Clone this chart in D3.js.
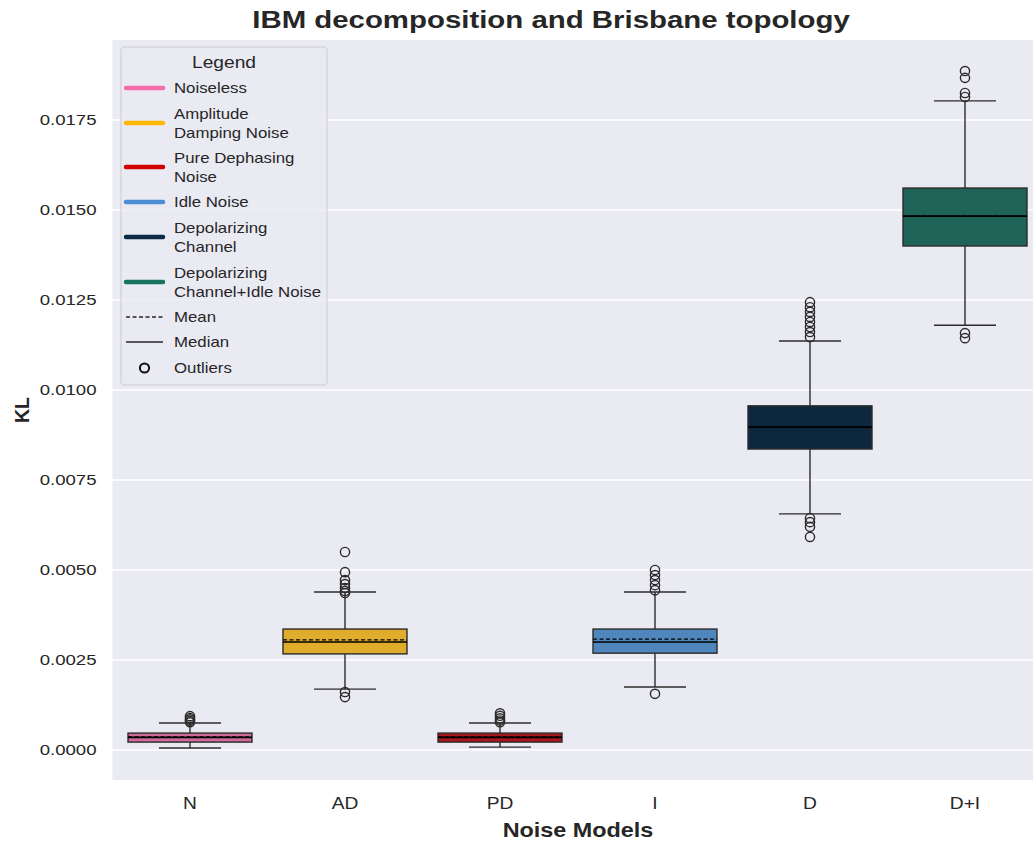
<!DOCTYPE html>
<html>
<head>
<meta charset="utf-8">
<script src="https://cdn.jsdelivr.net/npm/d3@7"></script>
<style>
  html, body { margin: 0; padding: 0; background: #ffffff; }
  svg { display: block; font-family: "Liberation Sans", Arial, sans-serif; }
</style>
</head>
<body>
<svg id="chart" width="1033" height="841"></svg>
<script>
// Noise model categories (x axis)
const categories = ["N", "AD", "PD", "I", "D", "D+I"];
const legendNames = ["Noiseless", "Amplitude\nDamping Noise", "Pure Dephasing\nNoise", "Idle Noise", "Depolarizing\nChannel", "Depolarizing\nChannel+Idle Noise"];

// Box statistics of the KL divergence per noise model
const whiskerLow  = [0.000055, 0.00169, 0.00008, 0.00175, 0.00656, 0.0118];
const q1Values    = [0.00022, 0.00267, 0.00022, 0.00269, 0.00836, 0.0140];
const medians     = [0.00035, 0.00300, 0.00035, 0.00300, 0.00897, 0.01483];
const means       = [0.00036, 0.00306, 0.00036, 0.00308, 0.00897, 0.01483];
const q3Values    = [0.00047, 0.00336, 0.00047, 0.00336, 0.00956, 0.01561];
const whiskerHigh = [0.00075, 0.00439, 0.00075, 0.00439, 0.01136, 0.01803];
const outliers = [
  [0.00077, 0.00081, 0.00085, 0.00089, 0.00094],
  [0.0055, 0.00494, 0.00472, 0.00461, 0.0045, 0.00442, 0.00436, 0.00161, 0.00147],
  [0.00077, 0.00082, 0.00088, 0.00095, 0.00102],
  [0.0050, 0.00486, 0.00472, 0.00458, 0.00444, 0.00156],
  [0.01244, 0.0123, 0.01217, 0.01203, 0.01189, 0.01175, 0.01161, 0.01147, 0.00644, 0.00633, 0.0062, 0.00592],
  [0.01886, 0.01867, 0.01825, 0.01814, 0.01158, 0.01144]
];

// Y axis ticks
const yTicks = [0, 0.0025, 0.005, 0.0075, 0.01, 0.0125, 0.015, 0.0175];

// Colours: legend handles and box fills
const legendColors = ["#f36ea8", "#ffb703", "#d00000", "#4a8fd6", "#0b2b47", "#17755f"];
const boxFills     = ["#cf6a9b", "#e0ac2b", "#a8151b", "#4f87bd", "#0d283e", "#1f6358"];

// Text is drawn slightly wide
const SX = 1.2;
const ink = "#262626";

const svg = d3.select("#chart");
const plot = { left: 112.5, right: 1042.5, top: 40, bottom: 780 };

const x = d3.scaleBand().domain(categories).range([plot.left, plot.right]).paddingInner(0).paddingOuter(0);
const y = d3.scaleLinear().domain([-0.000833, 0.019722]).range([plot.bottom, plot.top]);

function wideText(parent, px, py, str, size, opts = {}) {
  return parent.append("text")
    .attr("transform", `translate(${px},${py}) scale(${SX},1)` + (opts.rotate ? ` rotate(${opts.rotate})` : ""))
    .attr("text-anchor", opts.anchor || "start")
    .attr("font-size", size)
    .attr("font-weight", opts.bold ? "bold" : "normal")
    .attr("fill", ink)
    .text(str);
}

// Plot background
svg.append("rect")
  .attr("x", plot.left).attr("y", plot.top)
  .attr("width", plot.right - plot.left).attr("height", plot.bottom - plot.top)
  .attr("fill", "#eaeaf2");

// Horizontal grid lines
svg.append("g").selectAll("line").data(yTicks).join("line")
  .attr("x1", plot.left).attr("x2", plot.right)
  .attr("y1", d => y(d)).attr("y2", d => y(d))
  .attr("stroke", "#ffffff").attr("stroke-width", 1.3);

// Y axis (labels only)
const yAxis = d3.axisLeft(y).tickValues(yTicks).tickFormat(d3.format(".4f")).tickSize(0).tickPadding(16 / SX);
const gy = svg.append("g").attr("transform", `translate(${plot.left},0)`).call(yAxis);
gy.select(".domain").remove();
gy.selectAll("text").attr("font-size", 15.5).attr("fill", ink)
  .attr("font-family", "Liberation Sans, Arial, sans-serif")
  .attr("transform", `scale(${SX},1)`);

// X axis (labels only)
const xAxis = d3.axisBottom(x).tickSize(0).tickPadding(18);
const gx = svg.append("g").attr("transform", `translate(0,${plot.bottom})`).call(xAxis);
gx.select(".domain").remove();
gx.selectAll("text").attr("font-size", 16).attr("fill", ink)
  .attr("font-family", "Liberation Sans, Arial, sans-serif")
  .attr("transform", `scale(${SX},1)`);

// Boxes
const boxW = x.bandwidth() * 0.8;
const capW = boxW / 2;
const edge = "#2b2b2b";
const stats = categories.map((c, i) => ({
  c, i, lo: whiskerLow[i], q1: q1Values[i], med: medians[i], mean: means[i],
  q3: q3Values[i], hi: whiskerHigh[i], out: outliers[i]
}));

const boxes = svg.append("g").selectAll("g").data(stats).join("g")
  .attr("transform", d => `translate(${x(d.c) + x.bandwidth() / 2},0)`);

// Whiskers
boxes.append("line").attr("x1", 0).attr("x2", 0)
  .attr("y1", d => y(d.hi)).attr("y2", d => y(d.q3))
  .attr("stroke", edge).attr("stroke-width", 1.4);
boxes.append("line").attr("x1", 0).attr("x2", 0)
  .attr("y1", d => y(d.q1)).attr("y2", d => y(d.lo))
  .attr("stroke", edge).attr("stroke-width", 1.4);
// Caps
boxes.append("line").attr("x1", -capW / 2).attr("x2", capW / 2)
  .attr("y1", d => y(d.hi)).attr("y2", d => y(d.hi))
  .attr("stroke", edge).attr("stroke-width", 1.4);
boxes.append("line").attr("x1", -capW / 2).attr("x2", capW / 2)
  .attr("y1", d => y(d.lo)).attr("y2", d => y(d.lo))
  .attr("stroke", edge).attr("stroke-width", 1.4);

// Box body
boxes.append("rect")
  .attr("x", -boxW / 2).attr("width", boxW)
  .attr("y", d => y(d.q3)).attr("height", d => y(d.q1) - y(d.q3))
  .attr("fill", d => boxFills[d.i]).attr("stroke", edge).attr("stroke-width", 1.4);

// Median (solid) and mean (dashed)
boxes.append("line").attr("x1", -boxW / 2).attr("x2", boxW / 2)
  .attr("y1", d => y(d.med)).attr("y2", d => y(d.med))
  .attr("stroke", "#000").attr("stroke-width", 1.6);
boxes.append("line").attr("x1", -boxW / 2).attr("x2", boxW / 2)
  .attr("y1", d => y(d.mean)).attr("y2", d => y(d.mean))
  .attr("stroke", "#000").attr("stroke-width", 1.4).attr("stroke-dasharray", "4,2.5");

// Outliers
boxes.selectAll("circle").data(d => d.out).join("circle")
  .attr("cx", 0).attr("cy", v => y(v)).attr("r", 4.6)
  .attr("fill", "none").attr("stroke", edge).attr("stroke-width", 1.4);

// Title and axis labels
wideText(svg, 551, 28, "IBM decomposition and Brisbane topology", 24.5, { anchor: "middle", bold: true });
wideText(svg, 578, 837, "Noise Models", 19.5, { anchor: "middle", bold: true });
svg.append("text").attr("transform", "translate(29,410) rotate(-90)").attr("text-anchor", "middle")
  .attr("font-size", 19.5).attr("font-weight", "bold").attr("fill", ink)
  .text("KL");

// Legend
const lg = svg.append("g").attr("transform", "translate(121,47)");
lg.append("rect").attr("x", 0).attr("y", 0).attr("width", 206).attr("height", 338)
  .attr("rx", 3).attr("fill", "#eaeaf2").attr("fill-opacity", 0.8)
  .attr("stroke", "#cccccc").attr("stroke-width", 1);
wideText(lg, 103, 21, "Legend", 16, { anchor: "middle" });

const itemY = [41, 76, 120, 155, 190, 235];
const items = lg.append("g").selectAll("g").data(legendNames).join("g")
  .attr("transform", (d, i) => `translate(0,${itemY[i]})`);
items.append("line").attr("x1", 5).attr("x2", 42).attr("y1", 0).attr("y2", 0)
  .attr("stroke", (d, i) => legendColors[i]).attr("stroke-width", 4.5).attr("stroke-linecap", "round");
items.each(function(d) {
  const lines = d.split("\n");
  const off = lines.length === 1 ? 5 : -4.5;
  const t = wideText(d3.select(this), 53, 0, "", 14);
  lines.forEach((ln, k) => {
    t.append("tspan").attr("x", 0).attr("y", off + k * 19.5).text(ln);
  });
});

// Mean / median / outlier handles
lg.append("line").attr("x1", 5).attr("x2", 42).attr("y1", 270).attr("y2", 270)
  .attr("stroke", ink).attr("stroke-width", 1.4).attr("stroke-dasharray", "4,2.5");
wideText(lg, 53, 275, "Mean", 14);
lg.append("line").attr("x1", 5).attr("x2", 42).attr("y1", 295).attr("y2", 295)
  .attr("stroke", ink).attr("stroke-width", 1.4);
wideText(lg, 53, 300, "Median", 14);
lg.append("circle").attr("cx", 23.5).attr("cy", 321).attr("r", 4.6)
  .attr("fill", "none").attr("stroke", "#111").attr("stroke-width", 2);
wideText(lg, 53, 326, "Outliers", 14);
</script>
</body>
</html>
